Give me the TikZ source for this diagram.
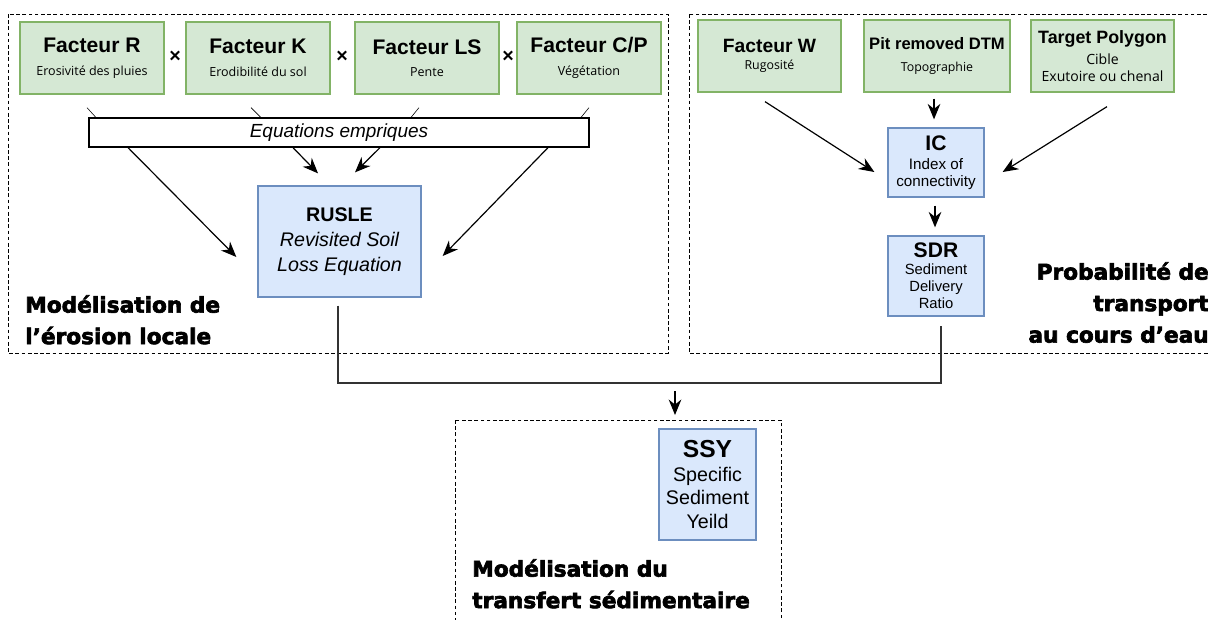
\documentclass[tikz,border=0pt]{standalone}
\usepackage{fontspec}
\setmainfont{Liberation Sans}
\newfontfamily\notefont{Open Sans}
\newfontfamily\zonefont{DejaVu Sans}[BoldFeatures={FakeBold=3}]
\usetikzlibrary{arrows.meta}

\definecolor{factorfill}{HTML}{D5E8D4}
\definecolor{factorline}{HTML}{82B366}
\definecolor{modelfill}{HTML}{DAE8FC}
\definecolor{modelline}{HTML}{6C8EBF}

\newcommand{\ftitle}{\rmfamily\bfseries\fontsize{15}{18}\selectfont}
\newcommand{\fsub}{\notefont\fontsize{8.9}{16}\selectfont}

\tikzset{
  factor/.style={draw=factorline, fill=factorfill, line width=0.9pt,
    minimum width=3.6cm, minimum height=1.8cm, align=center, inner sep=0pt, font=\fsub},
  model/.style={draw=modelline, fill=modelfill, line width=0.9pt,
    align=center, inner sep=0pt},
  zone/.style={draw, line width=0.7pt, dash pattern=on 2.6pt off 1.8pt},
  zonelabel/.style={font=\zonefont\bfseries\fontsize{15.4}{22.4}\selectfont, inner sep=0pt},
  arr/.style={-{Stealth[length=11pt,width=9pt]}, line width=0.85pt},
  link/.style={line width=1.2pt, black!80}
}

\begin{document}
\begin{tikzpicture}[x=0.025cm, y=-0.025cm]
\useasboundingbox (0,0) rectangle (1208,619);

% zones
\draw[zone] (8,14) rectangle (668,353);
\draw[zone] (689,14) rectangle (1240,353);
\draw[zone] (455,420) rectangle (781,650);

% erosion factors
\node[factor] (R)  at (92,58)  {{\ftitle Facteur R}\\Erosivité des pluies};
\node[factor] (K)  at (258,58) {{\ftitle Facteur K}\\Erodibilité du sol};
\node[factor] (LS) at (427,58) {{\ftitle Facteur LS}\\Pente};
\node[factor] (CP) at (589,58) {{\ftitle Facteur C/P}\\Végétation};

\foreach \n/\x in {times1/175, times2/342, times3/508}{
  \node[font=\bfseries\fontsize{14}{14}\selectfont] (\n) at (\x,57) {×};
}

\node[draw, line width=0.9pt, minimum width=12.5cm, minimum height=0.725cm,
  font=\itshape\fontsize{13.5}{16}\selectfont] (eq) at (339,132.5) {Equations empriques};

\node[model, minimum width=4.075cm, minimum height=2.775cm,
  font=\itshape\fontsize{14}{18}\selectfont] (rusle) at (339.5,241.5)
  {{\upshape\bfseries RUSLE}\\Revisited Soil\\Loss Equation};

\draw ([shift={(-5,13)}]R.south)   -- ([shift={(5,24)}]R.south);
\draw ([shift={(-7,13)}]K.south)   -- ([shift={(4,24)}]K.south);
\draw ([shift={(-8,13)}]LS.south)  -- ([shift={(-17,24)}]LS.south);
\draw ([shift={(0,13)}]CP.south)   -- ([shift={(-9,24)}]CP.south);

\draw[arr] ([xshift=-211*0.025cm]eq.south) -- ([shift={(-21,15.5)}]rusle.west);
\draw[arr] ([xshift=-46*0.025cm]eq.south)  -- ([shift={(-21.5,-12)}]rusle.north);
\draw[arr] ([xshift=41*0.025cm]eq.south)   -- ([shift={(15.5,-13)}]rusle.north);
\draw[arr] ([xshift=209*0.025cm]eq.south)  -- ([shift={(21,14.5)}]rusle.east);

% transport
\node[factor, minimum width=3.575cm, font=\notefont\fontsize{8.8}{12}\selectfont] (W) at (769.5,56)
  {{\rmfamily\bfseries\fontsize{13.7}{16}\selectfont Facteur W}\\Rugosité};
\node[factor, minimum width=3.65cm, font=\notefont\fontsize{8.8}{15}\selectfont] (pit) at (937,56)
  {{\rmfamily\bfseries\fontsize{11.8}{14}\selectfont Pit removed DTM}\\Topographie};
\node[factor, minimum width=3.575cm, font=\notefont\fontsize{10}{12.5}\selectfont] (target) at (1102.5,56)
  {{\rmfamily\bfseries\fontsize{12.7}{14}\selectfont Target Polygon}\\[2.5pt]Cible\\Exutoire ou chenal};

\node[model, minimum width=2.4cm, minimum height=1.725cm,
  font=\fontsize{10.8}{12}\selectfont] (IC) at (936,162.5)
  {{\bfseries\fontsize{15}{17}\selectfont IC}\\[1.5pt]Index of\\connectivity};
\node[model, minimum width=2.4cm, minimum height=2cm,
  font=\fontsize{10.5}{12}\selectfont] (SDR) at (936,276)
  {{\bfseries\fontsize{15}{17}\selectfont SDR}\\Sediment\\Delivery\\Ratio};

\draw[arr] ([shift={(-4.5,9)}]W.south)     -- ([shift={(-13,9.5)}]IC.west);
\draw[arr] ([shift={(4.5,14)}]target.south) -- ([shift={(18,9.5)}]IC.east);
\draw[arr] ([shift={(-3,6)}]pit.south)     -- ([shift={(-2,-8)}]IC.north);
\draw[arr] ([shift={(-1,8)}]IC.south)      -- ([shift={(-1,-8)}]SDR.north);

% sediment yield
\node[model, minimum width=2.425cm, minimum height=2.775cm,
  font=\fontsize{14}{17}\selectfont] (SSY) at (707.5,484.5)
  {{\bfseries\fontsize{17.5}{20}\selectfont SSY}\\Specific\\Sediment\\Yeild};

\coordinate (join) at (675,383);
\draw[link] ([shift={(-1.5,8)}]rusle.south) |- (join) -| ([shift={(5,9)}]SDR.south);
\draw[arr] ([yshift=-8*0.025cm]join) -- ([yshift=-32*0.025cm]join);

% zone titles
\node[zonelabel, align=left, anchor=north west] (erosion) at (25,295)
  {Modélisation de\\l’érosion locale};
\node[zonelabel, align=right, anchor=north east] (transport) at (1209,262)
  {Probabilité de\\transport\\au cours d’eau};
\node[zonelabel, align=left, anchor=north west] (transfert) at (472,559)
  {Modélisation du\\transfert sédimentaire};
\end{tikzpicture}
\end{document}
